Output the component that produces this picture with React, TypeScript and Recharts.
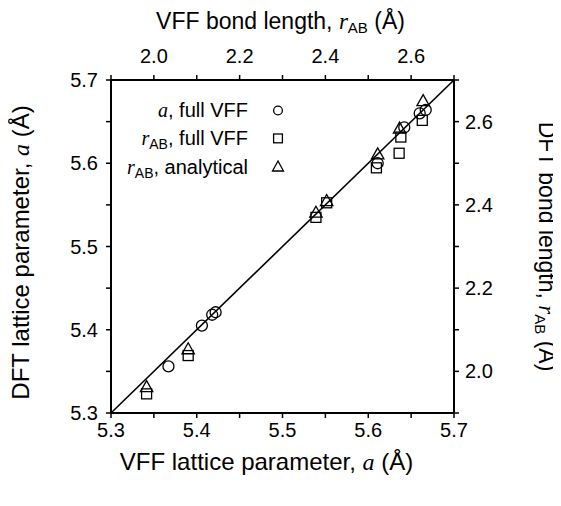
import React from 'react';
import { ScatterChart, Scatter, XAxis, YAxis, ReferenceLine, Legend } from 'recharts';

// VFF vs DFT lattice parameter a (Å) — circles
const aVFF = [5.367, 5.406, 5.418, 5.422, 5.611, 5.642, 5.660, 5.667];
const aDFT = [5.356, 5.405, 5.418, 5.421, 5.600, 5.643, 5.660, 5.664];

// bond length r_AB (Å), full VFF — squares
const rFullVFF = [1.983, 2.080, 2.378, 2.403, 2.519, 2.572, 2.576, 2.626];
const rFullDFT = [1.946, 2.038, 2.370, 2.405, 2.489, 2.524, 2.563, 2.603];

// bond length r_AB (Å), analytical — triangles
const rAnaVFF = [1.983, 2.080, 2.378, 2.403, 2.522, 2.573, 2.628];
const rAnaDFT = [1.961, 2.052, 2.380, 2.408, 2.520, 2.582, 2.648];

// axis ranges and ticks
const aDomain = [5.3, 5.7];
const rDomain = [1.9, 2.7];
const aTicks = [5.3, 5.35, 5.4, 5.45, 5.5, 5.55, 5.6, 5.65, 5.7];
const rTicks = [1.9, 2.0, 2.1, 2.2, 2.3, 2.4, 2.5, 2.6, 2.7];

const legendLabels = ['full VFF', 'full VFF', 'analytical'];

const circleData = aVFF.map((x, i) => ({ x, y: aDFT[i] }));
const squareData = rFullVFF.map((x, i) => ({ x, y: rFullDFT[i] }));
const triangleData = rAnaVFF.map((x, i) => ({ x, y: rAnaDFT[i] }));

const SANS = "'Liberation Sans', Arial, sans-serif";
const MATH = "'Liberation Serif', 'DejaVu Serif', serif";
const TICK_FS = 20;

const CircleShape = (p: any) => (
  <circle cx={p.cx} cy={p.cy} r={5.5} fill="none" stroke="#000" strokeWidth={1.3} />
);
const SquareShape = (p: any) => (
  <rect x={p.cx - 5} y={p.cy - 5} width={10} height={10} fill="none" stroke="#000" strokeWidth={1.3} />
);
const TriangleShape = (p: any) => (
  <path
    d={`M${p.cx},${p.cy - 7} L${p.cx + 6.2},${p.cy + 4} L${p.cx - 6.2},${p.cy + 4} Z`}
    fill="none"
    stroke="#000"
    strokeWidth={1.3}
  />
);

const fmtA = (v: number) =>
  Math.abs(v * 10 - Math.round(v * 10)) < 1e-6 ? v.toFixed(1) : '';
const fmtR = (v: number) => (Math.round(v * 10) % 2 === 0 ? v.toFixed(1) : '');

const RAB = ({ fs }: { fs: number }) => (
  <>
    <tspan fontFamily={MATH} fontStyle="italic">r</tspan>
    <tspan fontSize={fs} dy={4}>AB</tspan>
  </>
);

const BottomTitle = (props: any) => {
  const vb = props.viewBox;
  const cx = vb.x + vb.width / 2 - 16;
  const y = vb.y + vb.height + 17;
  return (
    <text x={cx} y={y} textAnchor="middle" fontFamily={SANS} fontSize={24} fill="#000">
      VFF lattice parameter, <tspan fontFamily={MATH} fontStyle="italic">a</tspan> (Å)
    </text>
  );
};

const TopTitle = (props: any) => {
  const vb = props.viewBox;
  const cx = vb.x + vb.width / 2 - 2;
  const y = vb.y - 11;
  return (
    <text x={cx} y={y} textAnchor="middle" fontFamily={SANS} fontSize={23} fill="#000">
      VFF bond length, <RAB fs={15} />
      <tspan dy={-4}> (Å)</tspan>
    </text>
  );
};

const LeftTitle = (props: any) => {
  const vb = props.viewBox;
  const cx = vb.x - 22;
  const cy = vb.y + vb.height / 2 + 6;
  return (
    <text
      x={cx}
      y={cy}
      transform={`rotate(-90, ${cx}, ${cy})`}
      textAnchor="middle"
      fontFamily={SANS}
      fontSize={24}
      fill="#000"
    >
      DFT lattice parameter, <tspan fontFamily={MATH} fontStyle="italic">a</tspan> (Å)
    </text>
  );
};

const RightTitle = (props: any) => {
  const vb = props.viewBox;
  const cx = vb.x + vb.width + 25;
  const cy = vb.y + vb.height / 2;
  return (
    <text
      x={cx}
      y={cy}
      transform={`rotate(90, ${cx}, ${cy})`}
      textAnchor="middle"
      fontFamily={SANS}
      fontSize={23}
      fill="#000"
    >
      DFT bond length, <RAB fs={15} />
      <tspan dy={-4}> (Å)</tspan>
    </text>
  );
};

const LegendContent = () => {
  const tx = 128;
  const sx = 158;
  const rows = [22, 50, 79];
  return (
    <svg width={180} height={95} style={{ overflow: 'visible' }}>
      <text x={tx} y={rows[0]} textAnchor="end" fontFamily={SANS} fontSize={20} fill="#000">
        <tspan fontFamily={MATH} fontStyle="italic">a</tspan>, {legendLabels[0]}
      </text>
      <circle cx={sx} cy={rows[0] - 6.5} r={4.4} fill="none" stroke="#000" strokeWidth={1.3} />
      <text x={tx} y={rows[1]} textAnchor="end" fontFamily={SANS} fontSize={20} fill="#000">
        <tspan fontFamily={MATH} fontStyle="italic">r</tspan>
        <tspan fontSize={14} dy={4}>AB</tspan>
        <tspan dy={-4}>, {legendLabels[1]}</tspan>
      </text>
      <rect x={sx - 4.4} y={rows[1] - 11} width={8.8} height={8.8} fill="none" stroke="#000" strokeWidth={1.3} />
      <text x={tx} y={rows[2]} textAnchor="end" fontFamily={SANS} fontSize={20} fill="#000">
        <tspan fontFamily={MATH} fontStyle="italic">r</tspan>
        <tspan fontSize={14} dy={4}>AB</tspan>
        <tspan dy={-4}>, {legendLabels[2]}</tspan>
      </text>
      <path
        d={`M${sx},${rows[2] - 13} L${sx + 5.5},${rows[2] - 3} L${sx - 5.5},${rows[2] - 3} Z`}
        fill="none"
        stroke="#000"
        strokeWidth={1.3}
      />
    </svg>
  );
};

const axisLine = { stroke: '#000', strokeWidth: 2 };
const tickLine = { stroke: '#000', strokeWidth: 1.5 };
const tickStyle = { fill: '#000', fontSize: TICK_FS, fontFamily: SANS };

export default function App() {
  return (
    <div style={{ width: 553, height: 490 }}>
      <ScatterChart
        width={553}
        height={490}
        margin={{ top: 32, right: 47, bottom: 45, left: 43 }}
        style={{ background: '#fff', overflow: 'visible' }}
      >
        <XAxis
          xAxisId="a"
          dataKey="x"
          type="number"
          orientation="bottom"
          domain={aDomain}
          ticks={aTicks}
          interval={0}
          allowDataOverflow
          tickFormatter={fmtA}
          height={40}
          tickSize={5}
          tickMargin={5}
          axisLine={axisLine}
          tickLine={tickLine}
          tick={tickStyle}
          label={BottomTitle}
        />
        <XAxis
          xAxisId="r"
          dataKey="x"
          type="number"
          orientation="top"
          domain={rDomain}
          ticks={rTicks}
          interval={0}
          allowDataOverflow
          tickFormatter={fmtR}
          height={40}
          tickSize={5}
          tickMargin={12}
          axisLine={axisLine}
          tickLine={tickLine}
          tick={tickStyle}
          label={TopTitle}
        />
        <YAxis
          yAxisId="a"
          dataKey="y"
          type="number"
          orientation="left"
          domain={aDomain}
          ticks={aTicks}
          interval={0}
          allowDataOverflow
          tickFormatter={fmtA}
          width={60}
          tickSize={5}
          tickMargin={8}
          axisLine={axisLine}
          tickLine={tickLine}
          tick={tickStyle}
          label={LeftTitle}
        />
        <YAxis
          yAxisId="r"
          dataKey="y"
          type="number"
          orientation="right"
          domain={rDomain}
          ticks={rTicks}
          interval={0}
          allowDataOverflow
          tickFormatter={fmtR}
          width={60}
          tickSize={5}
          tickMargin={6}
          axisLine={axisLine}
          tickLine={tickLine}
          tick={tickStyle}
          label={RightTitle}
        />
        <ReferenceLine
          xAxisId="a"
          yAxisId="a"
          segment={[
            { x: aDomain[0], y: aDomain[0] },
            { x: aDomain[1], y: aDomain[1] },
          ]}
          stroke="#000"
          strokeWidth={1.6}
          ifOverflow="visible"
        />
        <Scatter
          name="a, full VFF"
          data={circleData}
          xAxisId="a"
          yAxisId="a"
          shape={CircleShape}
          isAnimationActive={false}
        />
        <Scatter
          name="rAB, full VFF"
          data={squareData}
          xAxisId="r"
          yAxisId="r"
          shape={SquareShape}
          isAnimationActive={false}
        />
        <Scatter
          name="rAB, analytical"
          data={triangleData}
          xAxisId="r"
          yAxisId="r"
          shape={TriangleShape}
          isAnimationActive={false}
        />
        <Legend
          layout="vertical"
          align="center"
          verticalAlign="middle"
          content={LegendContent}
          wrapperStyle={{ left: 112, top: 87, width: 180, height: 95 }}
        />
      </ScatterChart>
    </div>
  );
}
